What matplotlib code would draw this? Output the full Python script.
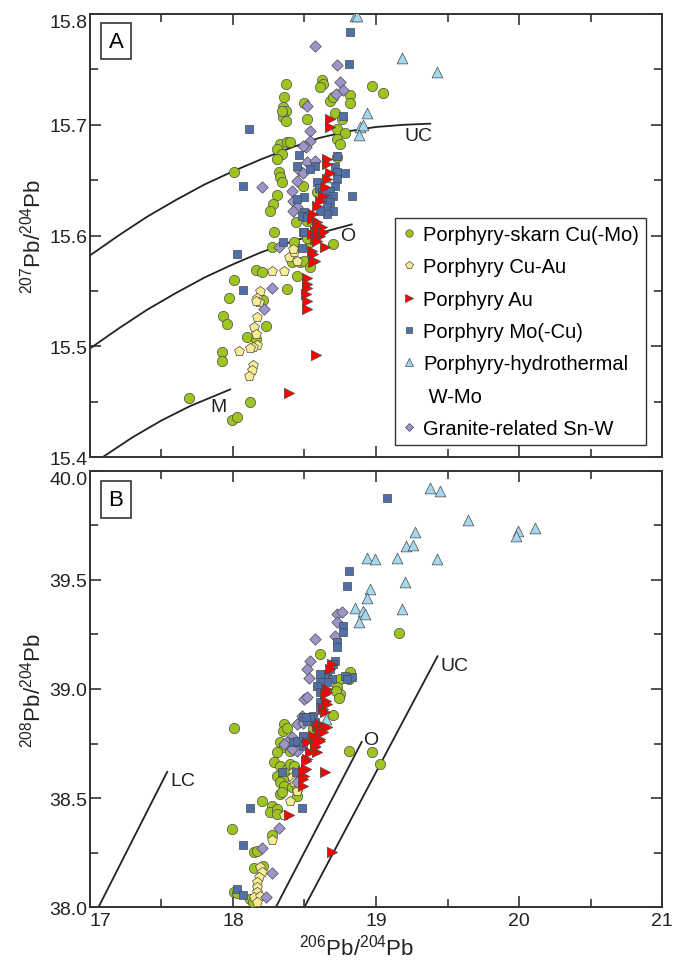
import numpy as np
import matplotlib
matplotlib.use('Agg')
import matplotlib.pyplot as plt
from matplotlib.ticker import MultipleLocator, FormatStrFormatter
from matplotlib.lines import Line2D

plt.rcParams['font.family'] = ['Liberation Sans', 'DejaVu Sans']
plt.rcParams['mathtext.default'] = 'regular'

# ---- data: 207Pb/204Pb vs 206Pb/204Pb (panel A) ----
a_skarn = [(18.37, 15.737), (18.36, 15.725), (18.35, 15.716), (18.37, 15.712), (18.35, 15.707),
           (18.37, 15.703), (18.34, 15.712), (18.50, 15.720), (18.52, 15.705), (18.62, 15.740),
           (18.63, 15.737), (18.61, 15.734), (18.68, 15.721), (18.70, 15.725), (18.82, 15.727),
           (18.82, 15.720), (18.97, 15.735), (19.05, 15.729), (18.71, 15.711), (18.76, 15.705),
           (18.73, 15.696), (18.78, 15.693), (18.73, 15.687), (18.75, 15.683), (18.73, 15.671),
           (18.33, 15.683), (18.38, 15.684), (18.40, 15.684), (18.31, 15.678), (18.34, 15.674),
           (18.31, 15.669), (18.01, 15.657), (18.32, 15.657), (18.33, 15.653), (18.34, 15.648),
           (18.49, 15.645), (18.31, 15.637), (18.28, 15.628), (18.26, 15.622), (18.44, 15.612),
           (18.29, 15.603), (18.59, 15.639), (18.52, 15.613), (18.27, 15.590), (18.43, 15.594),
           (18.54, 15.594), (18.70, 15.592), (18.41, 15.576), (18.47, 15.576), (18.50, 15.577),
           (18.54, 15.572), (18.16, 15.569), (18.20, 15.567), (18.45, 15.563), (18.01, 15.560),
           (18.38, 15.552), (17.97, 15.544), (18.21, 15.542), (17.93, 15.527), (17.96, 15.520),
           (18.23, 15.518), (18.10, 15.508), (18.16, 15.507), (17.92, 15.495), (17.92, 15.487),
           (18.12, 15.450), (17.99, 15.433), (18.03, 15.436), (17.69, 15.453), (18.52, 15.598)]
a_cuau = [(18.39, 15.581), (18.43, 15.585), (18.45, 15.577), (18.42, 15.588), (18.27, 15.568),
          (18.36, 15.568), (18.19, 15.550), (18.17, 15.544), (18.18, 15.540), (18.16, 15.541),
          (18.17, 15.526), (18.15, 15.517), (18.16, 15.511), (18.17, 15.501), (18.14, 15.499),
          (18.12, 15.498), (18.04, 15.496), (18.14, 15.483), (18.13, 15.479), (18.11, 15.473)]
a_au = [(18.68, 15.705), (18.68, 15.698), (18.66, 15.669), (18.66, 15.665), (18.68, 15.656),
        (18.66, 15.651), (18.64, 15.644), (18.63, 15.636), (18.61, 15.631), (18.59, 15.627),
        (18.56, 15.619), (18.55, 15.615), (18.59, 15.612), (18.59, 15.609), (18.62, 15.608),
        (18.57, 15.604), (18.61, 15.601), (18.55, 15.601), (18.59, 15.603), (18.61, 15.600),
        (18.63, 15.603), (18.57, 15.597), (18.59, 15.595), (18.64, 15.590), (18.55, 15.586),
        (18.56, 15.583), (18.57, 15.577), (18.56, 15.576), (18.52, 15.562), (18.52, 15.556),
        (18.52, 15.553), (18.51, 15.547), (18.52, 15.541), (18.52, 15.534), (18.58, 15.492),
        (18.39, 15.458)]
a_mocu = [(18.82, 15.784), (18.81, 15.755), (18.11, 15.696), (18.46, 15.673), (18.73, 15.672),
          (18.77, 15.708), (18.71, 15.662), (18.78, 15.656), (18.73, 15.657), (18.07, 15.645),
          (18.83, 15.636), (18.45, 15.663), (18.57, 15.663), (18.54, 15.660), (18.73, 15.651),
          (18.71, 15.645), (18.68, 15.640), (18.70, 15.636), (18.66, 15.633), (18.59, 15.648),
          (18.60, 15.643), (18.62, 15.639), (18.50, 15.635), (18.45, 15.633), (18.68, 15.630),
          (18.66, 15.626), (18.70, 15.622), (18.66, 15.619), (18.61, 15.622), (18.50, 15.621),
          (18.48, 15.618), (18.52, 15.617), (18.49, 15.603), (18.50, 15.603), (18.35, 15.594),
          (18.48, 15.589), (18.03, 15.583), (18.07, 15.551)]
a_wmo = [(18.85, 15.798), (18.87, 15.798), (19.18, 15.760), (19.43, 15.748), (18.94, 15.711),
         (18.89, 15.698), (18.91, 15.700), (18.88, 15.691), (18.64, 15.653)]
a_snw = [(18.57, 15.771), (18.73, 15.754), (18.75, 15.739), (18.77, 15.731), (18.72, 15.728),
         (18.52, 15.717), (18.54, 15.694), (18.54, 15.685), (18.51, 15.680), (18.49, 15.681),
         (18.52, 15.666), (18.57, 15.667), (18.46, 15.659), (18.49, 15.656), (18.45, 15.649),
         (18.20, 15.644), (18.41, 15.640), (18.42, 15.631), (18.45, 15.626), (18.42, 15.622),
         (18.32, 15.590), (18.27, 15.553), (18.22, 15.534)]

# growth curves for panel A (upper crust, orogene, mantle)
curve_uc = [(17.00, 15.582), (17.20, 15.600), (17.40, 15.617), (17.60, 15.632), (17.80, 15.646),
            (18.00, 15.658), (18.20, 15.669), (18.40, 15.679), (18.60, 15.688), (18.80, 15.694),
            (19.00, 15.698), (19.20, 15.700), (19.38, 15.701)]
curve_o = [(17.00, 15.498), (17.20, 15.516), (17.40, 15.533), (17.60, 15.548), (17.80, 15.562),
           (18.00, 15.574), (18.20, 15.585), (18.40, 15.594), (18.60, 15.602), (18.83, 15.610)]
curve_m = [(17.09, 15.400), (17.30, 15.418), (17.50, 15.433), (17.70, 15.446), (17.98, 15.461)]

# ---- data: 208Pb/204Pb vs 206Pb/204Pb (panel B) ----
b_skarn = [(18.81, 38.716), (18.97, 38.711), (19.03, 38.656), (19.16, 39.257), (18.61, 39.161),
           (18.82, 39.078), (18.81, 39.046), (18.75, 39.046), (18.73, 39.009), (18.75, 38.977),
           (18.70, 38.881), (18.72, 38.990), (18.74, 38.960), (18.01, 38.821), (18.36, 38.839),
           (18.35, 38.807), (18.38, 38.820), (18.33, 38.757), (18.36, 38.734), (18.31, 38.711),
           (18.40, 38.716), (18.29, 38.665), (18.33, 38.647), (18.38, 38.633), (18.40, 38.656),
           (18.43, 38.647), (18.31, 38.601), (18.35, 38.587), (18.42, 38.601), (18.33, 38.573),
           (18.36, 38.555), (18.41, 38.550), (18.45, 38.541), (18.45, 38.509), (18.33, 38.518),
           (18.34, 38.528), (18.20, 38.486), (18.27, 38.463), (18.26, 38.436), (18.31, 38.450),
           (18.31, 38.427), (17.99, 38.358), (18.27, 38.330), (18.15, 38.252), (18.17, 38.257),
           (18.15, 38.179), (18.21, 38.188), (18.01, 38.069), (18.03, 38.064), (18.12, 38.037),
           (18.14, 38.023), (18.55, 38.860), (18.56, 38.820)]
b_cuau = [(18.42, 38.619), (18.41, 38.596), (18.43, 38.573), (18.45, 38.532), (18.40, 38.486),
          (18.36, 38.422), (18.27, 38.307), (18.19, 38.183), (18.20, 38.161), (18.18, 38.138),
          (18.17, 38.115), (18.17, 38.092), (18.17, 38.069), (18.15, 38.046), (18.19, 38.050),
          (18.17, 38.023)]
b_au = [(18.69, 39.115), (18.68, 39.092), (18.66, 39.000), (18.66, 38.986), (18.64, 38.977),
        (18.65, 38.945), (18.66, 38.931), (18.63, 38.908), (18.64, 38.894), (18.61, 38.839),
        (18.59, 38.830), (18.63, 38.826), (18.66, 38.826), (18.60, 38.807), (18.63, 38.803),
        (18.56, 38.784), (18.61, 38.771), (18.57, 38.757), (18.52, 38.757), (18.57, 38.734),
        (18.59, 38.711), (18.52, 38.679), (18.51, 38.633), (18.50, 38.601), (18.49, 38.555),
        (18.51, 38.670), (18.54, 38.711), (18.57, 38.739), (18.61, 38.761), (18.49, 38.624),
        (18.49, 38.587), (18.64, 38.619), (18.39, 38.422), (18.69, 38.252)]
b_mocu = [(19.08, 39.876), (18.81, 39.541), (18.80, 39.472), (18.77, 39.289), (18.77, 39.261),
          (18.73, 39.216), (18.73, 39.193), (18.71, 39.128), (18.70, 39.115), (18.68, 39.092),
          (18.66, 39.069), (18.64, 39.055), (18.61, 39.069), (18.83, 39.055), (18.78, 39.060),
          (18.80, 39.046), (18.69, 39.046), (18.66, 39.032), (18.61, 39.032), (18.59, 39.014),
          (18.61, 38.986), (18.61, 38.940), (18.61, 38.917), (18.56, 38.876), (18.49, 38.872),
          (18.52, 38.853), (18.57, 38.849), (18.49, 38.780), (18.47, 38.757), (18.34, 38.619),
          (18.44, 38.619), (18.12, 38.454), (18.48, 38.454), (18.07, 38.284), (18.03, 38.083),
          (18.07, 38.055), (18.42, 38.757), (18.45, 38.761), (18.49, 38.739), (18.49, 38.784),
          (18.54, 38.872), (18.51, 38.872)]
b_wmo = [(19.38, 39.922), (19.45, 39.908), (19.64, 39.775), (19.99, 39.725), (19.98, 39.702),
         (20.11, 39.739), (19.27, 39.720), (19.21, 39.656), (19.26, 39.661), (18.94, 39.601),
         (18.99, 39.596), (19.15, 39.601), (19.43, 39.596), (19.20, 39.491), (18.96, 39.459),
         (18.94, 39.417), (19.18, 39.367), (18.85, 39.372), (18.91, 39.358), (18.92, 39.344),
         (18.88, 39.307), (18.65, 38.862)]
b_snw = [(18.73, 39.344), (18.76, 39.353), (18.73, 39.307), (18.71, 39.243), (18.57, 39.229),
         (18.54, 39.128), (18.52, 39.092), (18.53, 39.050), (18.50, 38.954), (18.52, 38.963),
         (18.48, 38.876), (18.47, 38.849), (18.45, 38.839), (18.49, 38.844), (18.41, 38.780),
         (18.38, 38.757), (18.36, 38.748), (18.42, 38.739), (18.45, 38.716), (18.41, 38.725),
         (18.45, 38.573), (18.32, 38.362), (18.20, 38.271), (18.27, 38.156), (18.23, 38.046)]

# reference lines for panel B
line_lc = [(17.06, 38.00), (17.54, 38.62)]
line_o = [(18.30, 38.00), (18.90, 38.757)]
line_uc = [(18.50, 38.00), (19.43, 39.15)]

# series styles: label, marker, size, face colour
styles = {
    'skarn': ('Porphyry-skarn Cu(-Mo)', 'o', 55, '#9dc41f'),
    'cuau': ('Porphyry Cu-Au', 'p', 55, '#f8ec93'),
    'au': ('Porphyry Au', '>', 55, '#ff0000'),
    'mocu': ('Porphyry Mo(-Cu)', 's', 38, '#4f70a8'),
    'wmo': ('Porphyry-hydrothermal', '^', 60, '#a3d8f0'),
    'snw': ('Granite-related Sn-W', 'D', 34, '#9d95c9'),
}
draw_order = ['skarn', 'cuau', 'snw', 'wmo', 'mocu', 'au']
legend_order = ['skarn', 'cuau', 'au', 'mocu', 'wmo', 'snw']

fig = plt.figure(figsize=(6.79, 9.62), dpi=100)
axA = fig.add_axes([0.1325, 0.5239, 0.8425, 0.4605])
axB = fig.add_axes([0.1325, 0.0561, 0.8425, 0.4533])


def scatter_all(ax, sets):
    for key in draw_order:
        label, mk, size, fc = styles[key]
        pts = np.array(sets[key])
        ax.scatter(pts[:, 0], pts[:, 1], marker=mk, s=size, facecolor=fc,
                   edgecolor='#4a4a4a', linewidth=0.5, zorder=3)


def style_axes(ax, ymaj, ymin):
    ax.set_xlim(17, 21)
    ax.xaxis.set_major_locator(MultipleLocator(1))
    ax.xaxis.set_minor_locator(MultipleLocator(0.5))
    ax.yaxis.set_major_locator(MultipleLocator(ymaj))
    ax.yaxis.set_minor_locator(MultipleLocator(ymin))
    ax.yaxis.set_major_formatter(FormatStrFormatter('%.1f'))
    ax.tick_params(which='both', direction='in', top=True, right=True,
                   color='#333333', width=1.2, labelsize=14, labelcolor='#222222')
    ax.tick_params(axis='y', pad=2)
    ax.tick_params(which='major', length=8)
    ax.tick_params(which='minor', length=6)
    for sp in ax.spines.values():
        sp.set_linewidth(1.4)
        sp.set_color('#333333')


# panel A
scatter_all(axA, {'skarn': a_skarn, 'cuau': a_cuau, 'au': a_au,
                  'mocu': a_mocu, 'wmo': a_wmo, 'snw': a_snw})
for crv in (curve_uc, curve_o, curve_m):
    c = np.array(crv)
    axA.plot(c[:, 0], c[:, 1], color='#222222', lw=1.3, zorder=2)
axA.set_ylim(15.4, 15.8)
style_axes(axA, 0.1, 0.05)
axA.tick_params(labelbottom=False)
axA.text(19.30, 15.690, 'UC', fontsize=14, ha='center', va='center', color='#222222')
axA.text(18.80, 15.600, 'O', fontsize=14, ha='center', va='center', color='#222222')
axA.text(17.90, 15.446, 'M', fontsize=14, ha='center', va='center', color='#222222')
axA.set_ylabel(r'$^{207}$Pb/$^{204}$Pb', fontsize=16, color='#222222')
axA.yaxis.set_label_coords(-0.078, 0.5)
axA.text(0.0455, 0.939, 'A', transform=axA.transAxes, fontsize=16, ha='center', va='center',
         bbox=dict(boxstyle='square,pad=0.35', fc='white', ec='#333333', lw=1.2))

handles = []
labels = []
for key in legend_order:
    label, mk, size, fc = styles[key]
    handles.append(Line2D([], [], ls='none', marker=mk, markersize=np.sqrt(size) * 0.72,
                          markerfacecolor=fc, markeredgecolor='#4a4a4a', markeredgewidth=0.5))
    labels.append(label)
    if key == 'wmo':
        # second line of the W-Mo entry, no marker
        handles.append(Line2D([], [], ls='none', marker=None))
        labels.append(' W-Mo')
leg = axA.legend(handles, labels, loc='upper left', bbox_to_anchor=(0.533, 0.5395),
                 borderaxespad=0, fontsize=14.5, handlelength=0.7, handletextpad=0.35,
                 labelspacing=0.66, borderpad=0.35, fancybox=False, framealpha=1,
                 edgecolor='#333333')
leg.get_frame().set_linewidth(1.0)

# panel B
scatter_all(axB, {'skarn': b_skarn, 'cuau': b_cuau, 'au': b_au,
                  'mocu': b_mocu, 'wmo': b_wmo, 'snw': b_snw})
for ln in (line_lc, line_o, line_uc):
    c = np.array(ln)
    axB.plot(c[:, 0], c[:, 1], color='#222222', lw=1.3, zorder=2)
axB.set_ylim(38.0, 40.0)
style_axes(axB, 0.5, 0.25)
axB.text(17.56, 38.58, 'LC', fontsize=14, ha='left', va='center', color='#222222')
axB.text(18.91, 38.77, 'O', fontsize=14, ha='left', va='center', color='#222222')
axB.text(19.45, 39.11, 'UC', fontsize=14, ha='left', va='center', color='#222222')
axB.set_ylabel(r'$^{208}$Pb/$^{204}$Pb', fontsize=16, color='#222222')
axB.yaxis.set_label_coords(-0.078, 0.5)
axB.set_xlabel(r'$^{206}$Pb/$^{204}$Pb', fontsize=16, color='#222222')
axB.xaxis.set_label_coords(0.467, -0.062)
axB.text(0.0455, 0.935, 'B', transform=axB.transAxes, fontsize=16, ha='center', va='center',
         bbox=dict(boxstyle='square,pad=0.35', fc='white', ec='#333333', lw=1.2))

# keep the corner tick labels clear of each other
fig.canvas.draw()
for lab in axA.get_yticklabels():
    if lab.get_text() == '15.8':
        lab.set_va('top')
for lab in axB.get_yticklabels():
    if lab.get_text() == '40.0':
        lab.set_va('top')
for lab in axB.get_xticklabels():
    if lab.get_text() == '17':
        lab.set_ha('left')

fig.savefig('out.png', dpi=100)
